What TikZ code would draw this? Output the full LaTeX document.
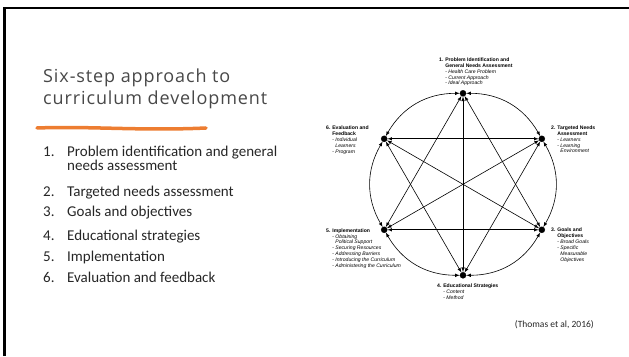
\documentclass[tikz,border=0pt]{standalone}
\usepackage{fontspec}
\setmainfont{Carlito}
\newfontfamily\titlefont{Open Sans}[LetterSpace=5]
\newfontfamily\labfont{Liberation Sans}
\usetikzlibrary{arrows,positioning,calc}
\definecolor{slideorange}{RGB}{237,125,49}
\definecolor{titlegray}{RGB}{72,72,72}
\tikzstyle{stepdot}=[circle, fill=black, draw=black, minimum size=6pt, inner sep=0pt]
\tikzstyle{lab}=[font=\labfont\fontsize{5.1}{5.9}\selectfont, align=left, inner sep=0pt, anchor=north west]
\tikzstyle{link}=[<->, >=latex, line width=0.6pt]
\tikzstyle{ttl}=[font=\titlefont\fontsize{18}{22}\selectfont, text=titlegray, anchor=base west, inner sep=0pt]
\tikzstyle{item}=[font=\fontsize{15}{16}\selectfont, text=black!85, anchor=base west, inner sep=0pt]
\newcommand{\hd}[1]{\textbf{#1}}
\newcommand{\subpt}[1]{- \textit{#1}}
\newcommand{\ind}{\phantom{1. }}

\begin{document}
\begin{tikzpicture}[x=1pt, y=1pt]
        %
        \useasboundingbox (0,0) rectangle (629,356);
        \draw[line width=2.5pt] (4.7,0) -- (4.7,348.2) -- (629,348.2);
        %
        \node[ttl] (t1) at (43,273) {Six-step approach to};
        \node[ttl] (t2) at (43,251) {curriculum development};
        \draw[slideorange, line width=3.5pt, line cap=round] (37,228) .. controls (90,230) and (140,225) .. (206,228);
        %
        \node[item] (i1) at (43,199) {1.};
        \node[item] (s1) at (67,199) {Problem identification and general};
        \node[item] (s1b) at (67,185) {needs assessment};
        \node[item] (i2) at (43,159) {2.};
        \node[item] (s2) at (67,159) {Targeted needs assessment};
        \node[item] (i3) at (43,139) {3.};
        \node[item] (s3) at (67,139) {Goals and objectives};
        \node[item] (i4) at (43,115) {4.};
        \node[item] (s4) at (67,115) {Educational strategies};
        \node[item] (i5) at (43,94) {5.};
        \node[item] (s5) at (67,94) {Implementation};
        \node[item] (i6) at (43,73) {6.};
        \node[item] (s6) at (67,73) {Evaluation and feedback};
        %
        \coordinate (c) at (463,171.7);
        \node[stepdot] (n1) at ([shift={(90:91)}]c) {};
        \node[stepdot] (n2) at ([shift={(30:91)}]c) {};
        \node[stepdot] (n3) at ([shift={(-30:91)}]c) {};
        \node[stepdot] (n4) at ([shift={(-90:91)}]c) {};
        \node[stepdot] (n5) at ([shift={(-150:91)}]c) {};
        \node[stepdot] (n6) at ([shift={(150:91)}]c) {};
        %
        \draw[link] (n1) to[bend left=30] (n2);
        \draw[link] (n2) to[bend left=30] (n3);
        \draw[link] (n3) to[bend left=30] (n4);
        \draw[link] (n4) to[bend left=30] (n5);
        \draw[link] (n5) to[bend left=30] (n6);
        \draw[link] (n6) to[bend left=30] (n1);
        %
        \draw[link] (n1) -- (n3);
        \draw[link] (n1) -- (n4);
        \draw[link] (n1) -- (n5);
        \draw[link] (n2) -- (n4);
        \draw[link] (n2) -- (n5);
        \draw[link] (n2) -- (n6);
        \draw[link] (n3) -- (n5);
        \draw[link] (n3) -- (n6);
        \draw[link] (n4) -- (n6);
        %
        \node[lab] (l1) at (439,298.5) {\hd{1. Problem Identification and}\\\hd{\ind General Needs Assessment}\\\ind\subpt{Health Care Problem}\\\ind\subpt{Current Approach}\\\ind\subpt{Ideal Approach}};
        \node[lab] (l2) at (551,230.5) {\hd{2. Targeted Needs}\\\hd{\ind Assessment}\\\ind\subpt{Learners}\\\ind\subpt{Learning}\\\ind\phantom{- }\textit{Environment}};
        \node[lab] (l3) at (551,128) {\hd{3. Goals and}\\\hd{\ind Objectives}\\\ind\subpt{Broad Goals}\\\ind\subpt{Specific}\\\ind\phantom{- }\textit{Measurable}\\\ind\phantom{- }\textit{Objectives}};
        \node[lab] (l4) at (437,72) {\hd{4. Educational Strategies}\\\ind\subpt{Content}\\\ind\subpt{Method}};
        \node[lab] (l5) at (326,127.7) {\hd{5. Implementation}\\\ind\subpt{Obtaining}\\\ind\phantom{- }\textit{Political Support}\\\ind\subpt{Securing Resources}\\\ind\subpt{Addressing Barriers}\\\ind\subpt{Introducing the Curriculum}\\\ind\subpt{Administering the Curriculum}};
        \node[lab] (l6) at (326,230) {\hd{6. Evaluation and}\\\hd{\ind Feedback}\\\ind\subpt{Individual}\\\ind\phantom{- }\textit{Learners}\\\ind\subpt{Program}};
        %
        \node[font=\fontsize{9.5}{11}\selectfont, text=black!85, anchor=base east, inner sep=0pt] (cite) at (594,28.5) {(Thomas et al, 2016)};
      %
      \end{tikzpicture}
\end{document}
